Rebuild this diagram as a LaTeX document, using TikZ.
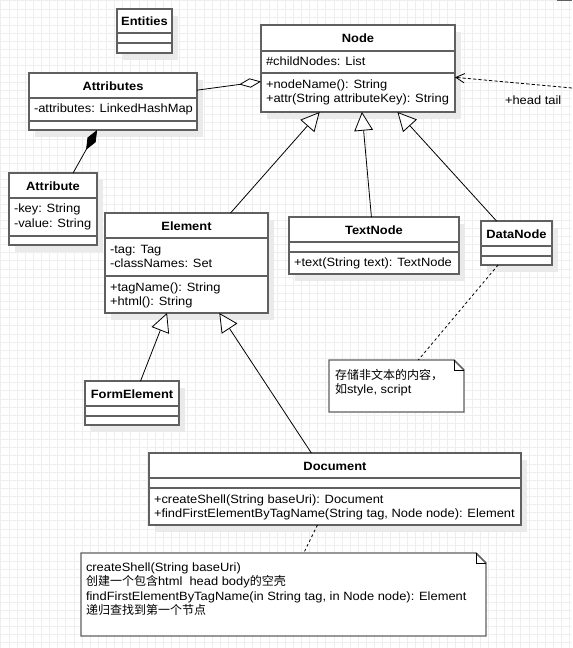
\documentclass[tikz,border=0pt]{standalone}
\usepackage{fontspec}
\setmainfont{Liberation Sans}[FakeStretch=1.075]
\newfontfamily\cjk{Noto Sans CJK SC}
\usetikzlibrary{arrows.meta,shadows,fit}
\definecolor{boxc}{RGB}{96,96,96}
\definecolor{gridc}{RGB}{238,238,238}
\definecolor{shadowc}{RGB}{234,234,234}
\begin{document}
\begin{tikzpicture}[x=0.75pt,y=-0.75pt,
  every node/.style={font=\fontsize{9}{11}\selectfont, inner sep=0pt, outer sep=0pt},
  gridline/.style={draw=gridc, line width=0.75pt},
  classbox/.style={draw=boxc, line width=1.1pt, fill=white,
    drop shadow={shadow xshift=4.5pt, shadow yshift=-5pt, fill=shadowc, opacity=1}},
  sepline/.style={draw=boxc, line width=1.1pt},
  notebox/.style={draw=boxc, line width=1.1pt, fill=white},
  foldline/.style={draw=black, line width=0.6pt},
  title/.style={anchor=base, font=\fontsize{9}{11}\selectfont\bfseries},
  member/.style={anchor=base west},
  link/.style={draw=black, line width=0.6pt},
  inherit/.style={link, -{Triangle[fill=white, length=14pt, width=14pt]}},
  aggr/.style={link, -{Diamond[fill=white, length=16.5pt, width=7pt]}},
  compo/.style={link, -{Diamond[length=17pt, width=7pt]}},
  depend/.style={link, dash pattern=on 2.5pt off 1.5pt, -{Straight Barb[length=6.5pt, width=7pt]}},
  notelink/.style={link, dash pattern=on 2pt off 2pt}
]
\useasboundingbox (0,0) rectangle (572,648);
% grid
\foreach \i in {0,...,70} {\draw[gridline] ({0.9+8.125*\i},0) -- ({0.9+8.125*\i},648);}
\foreach \j in {0,...,79} {\draw[gridline] (0,{0.9+8.125*\j}) -- (572,{0.9+8.125*\j});}
% partial box at top right
\draw[sepline] (557,0.5) -- (572,0.5);

% Entities
\node[classbox, fit={(117,9) (172,53)}] (entities) {};
\draw[sepline] (entities.west |- 0,33) -- (entities.east |- 0,33);
\draw[sepline] (entities.west |- 0,43) -- (entities.east |- 0,43);
\node[title] (entitiesT) at (144.5,26) {Entities};

% Node
\node[classbox, fit={(261,25) (455,112)}] (nnode) {};
\draw[sepline] (nnode.west |- 0,51) -- (nnode.east |- 0,51);
\draw[sepline] (nnode.west |- 0,73) -- (nnode.east |- 0,73);
\node[title] (nnodeT) at (358,43) {Node};
\node[member] (nnodeA) at (266,66) {\#childNodes: List};
\node[member] (nnodeB) at (266,88.5) {+nodeName(): String};
\node[member] (nnodeC) at (266,103) {+attr(String attributeKey): String};

% Attributes
\node[classbox, fit={(29,73) (197,130)}] (attributes) {};
\draw[sepline] (attributes.west |- 0,98) -- (attributes.east |- 0,98);
\draw[sepline] (attributes.west |- 0,121) -- (attributes.east |- 0,121);
\node[title] (attributesT) at (113,90.5) {Attributes};
\node[member] (attributesA) at (34,113) {-attributes: LinkedHashMap};

% Attribute
\node[classbox, fit={(9,173) (97,245)}] (attribute) {};
\draw[sepline] (attribute.west |- 0,198) -- (attribute.east |- 0,198);
\draw[sepline] (attribute.west |- 0,236) -- (attribute.east |- 0,236);
\node[title] (attributeT) at (53,190.5) {Attribute};
\node[member] (attributeA) at (14,213) {-key: String};
\node[member] (attributeB) at (14,227.5) {-value: String};

% Element
\node[classbox, fit={(105,213) (268,313)}] (element) {};
\draw[sepline] (element.west |- 0,238) -- (element.east |- 0,238);
\draw[sepline] (element.west |- 0,276) -- (element.east |- 0,276);
\node[title] (elementT) at (186.5,230.5) {Element};
\node[member] (elementA) at (110,253) {-tag: Tag};
\node[member] (elementB) at (110,267.5) {-classNames: Set};
\node[member] (elementC) at (110,291) {+tagName(): String};
\node[member] (elementD) at (110,305.5) {+html(): String};

% TextNode
\node[classbox, fit={(289,217) (459,274)}] (textnode) {};
\draw[sepline] (textnode.west |- 0,242) -- (textnode.east |- 0,242);
\draw[sepline] (textnode.west |- 0,252) -- (textnode.east |- 0,252);
\node[title] (textnodeT) at (374,234.5) {TextNode};
\node[member] (textnodeA) at (294,267) {+text(String text): TextNode};

% DataNode
\node[classbox, fit={(481,221) (552,265)}] (datanode) {};
\draw[sepline] (datanode.west |- 0,246) -- (datanode.east |- 0,246);
\draw[sepline] (datanode.west |- 0,256) -- (datanode.east |- 0,256);
\node[title] (datanodeT) at (516.5,238.5) {DataNode};

% FormElement
\node[classbox, fit={(85,381) (179,425)}] (formel) {};
\draw[sepline] (formel.west |- 0,406) -- (formel.east |- 0,406);
\draw[sepline] (formel.west |- 0,416) -- (formel.east |- 0,416);
\node[title] (formelT) at (132,398.5) {FormElement};

% Document
\node[classbox, fit={(149,453) (521,525)}] (document) {};
\draw[sepline] (document.west |- 0,478) -- (document.east |- 0,478);
\draw[sepline] (document.west |- 0,488) -- (document.east |- 0,488);
\node[title] (documentT) at (335,470.5) {Document};
\node[member] (documentA) at (154,503) {+createShell(String baseUri): Document};
\node[member] (documentB) at (154,517.5) {+findFirstElementByTagName(String tag, Node node): Element};

% Note 1
\node[fit={(329,360) (464,412)}] (note1) {};
\draw[notebox] (note1.north west) -- ([xshift=-7.5pt]note1.north east) -- ([yshift=-7.5pt]note1.north east) -- (note1.south east) -- (note1.south west) -- cycle;
\draw[foldline] ([xshift=-7.5pt]note1.north east) |- ([yshift=-7.5pt]note1.north east);
\node[member] (note1A) at (335,379.5) {{\cjk 存储非文本的内容，}};
\node[member] (note1B) at (335,393.5) {{\cjk 如}style, script};

% Note 2
\node[fit={(81,553) (486,636)}] (note2) {};
\draw[notebox] (note2.north west) -- ([xshift=-7.5pt]note2.north east) -- ([yshift=-7.5pt]note2.north east) -- (note2.south east) -- (note2.south west) -- cycle;
\draw[foldline] ([xshift=-7.5pt]note2.north east) |- ([yshift=-7.5pt]note2.north east);
\node[member] (note2A) at (86,571) {createShell(String baseUri)};
\node[member] (note2B) at (86,585.5) {{\cjk 创建一个包含}html\ \ head body{\cjk 的空壳}};
\node[member] (note2C) at (86,600) {findFirstElementByTagName(in String tag, in Node node): Element};
\node[member] (note2D) at (86,614.5) {{\cjk 递归查找到第一个节点}};

% connectors
\draw[aggr] (attributes) -- (nnode);
\draw[compo] (attribute) -- (attributes);
\draw[inherit] (element) -- (nnode);
\draw[inherit] (textnode) -- (nnode);
\draw[inherit] (datanode) -- (nnode);
\draw[inherit] (formel) -- (element);
\draw[inherit] (document) -- (element);
\draw[notelink] (datanode) -- (note1);
\draw[notelink] (document) -- (note2);
\coordinate (headend) at (572,88);
\draw[depend] (headend) -- (nnode);
\node[member] (headlabel) at (505,105) {+head tail};
\end{tikzpicture}
\end{document}
